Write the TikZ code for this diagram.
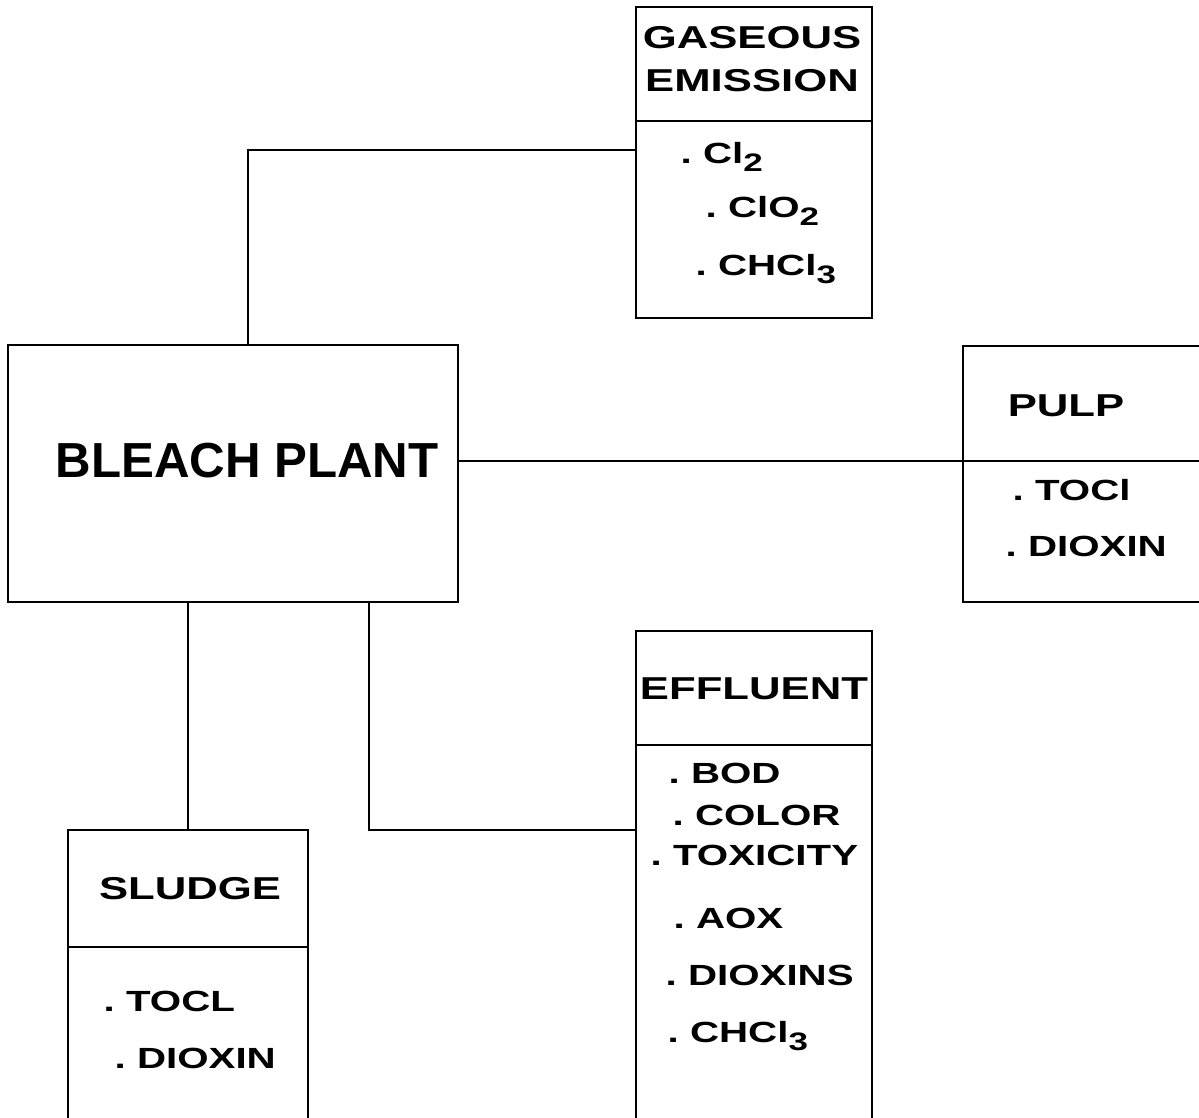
\documentclass[tikz,border=0pt]{standalone}
\usepackage{fontspec}
\setmainfont{Liberation Sans}
\newfontfamily\widesans[FakeStretch=1.38]{Liberation Sans}
\newcommand{\LW}{0.75pt}
\newcommand{\chemsub}[1]{\raisebox{-0.55ex}{\fontsize{7.2}{8}\selectfont#1}}

\begin{document}
\begin{tikzpicture}[
    x=0.01cm, y=-0.01cm,
    wire/.style={draw=black, line width=\LW},
    box/.style={rectangle, draw=black, line width=\LW, inner sep=0pt},
    head/.style={font=\widesans\bfseries\fontsize{9}{10}\selectfont, anchor=base, inner sep=0pt},
    item/.style={font=\widesans\bfseries\fontsize{8.3}{10}\selectfont, anchor=base west, inner sep=0pt},
    big/.style={font=\bfseries\fontsize{14}{16}\selectfont, anchor=base, inner sep=0pt},
  ]
  \useasboundingbox (0,0) rectangle (1199,1118);

  % boxes (pulp, effluent and sludge run off the page)
  \node[box, minimum width=4.50cm, minimum height=2.57cm] (plant)  at (233,473.5) {};
  \node[box, minimum width=2.36cm, minimum height=3.11cm] (gas)    at (754,162.5) {};
  \node[box, minimum width=2.77cm, minimum height=2.56cm] (pulp)   at (1101.5,474) {};
  \node[box, minimum width=2.36cm, minimum height=5.19cm] (effl)   at (754,890.5) {};
  \node[box, minimum width=2.40cm, minimum height=3.20cm] (sludge) at (188,990) {};

  % title / list dividers
  \draw[wire] (636,121) -- (872,121);
  \draw[wire] (636,745) -- (872,745);
  \draw[wire] (68,947) -- (308,947);

  % titles
  \node[big]  (planttxt) at (247,477.5) {BLEACH PLANT};
  \node[head] (gastxt)   at (752,48.5)  {GASEOUS};
  \node[head] (gastxtb)  at (752,91.5)  {EMISSION};
  \node[head] (pulptxt)  at (1066,416)  {PULP};
  \node[head] (effltxt)  at (754,699)   {EFFLUENT};
  \node[head] (sludgetxt) at (190,899)  {SLUDGE};

  % listed items
  \foreach \px/\py/\txt [count=\k] in {680/163/{Cl\chemsub{2}}, 705/217/{ClO\chemsub{2}},
      695/275/{CHCl\chemsub{3}}}
    \node[item] (gas-\k) at (\px,\py) {.\ \txt};
  \foreach \px/\py/\txt [count=\k] in {1012/500/TOCl, 1005/556/DIOXIN}
    \node[item] (pulp-\k) at (\px,\py) {.\ \txt};
  \foreach \px/\py/\txt [count=\k] in {668/783/BOD, 672/825/COLOR, 650/865/TOXICITY, 673/928/AOX,
      665/985/DIOXINS, 667/1042/{CHCl\chemsub{3}}}
    \node[item] (effl-\k) at (\px,\py) {.\ \txt};
  \foreach \px/\py/\txt [count=\k] in {103/1011/TOCL, 114/1068/DIOXIN}
    \node[item] (sludge-\k) at (\px,\py) {.\ \txt};

  % connectors
  \coordinate (gasjoin)  at (248,150);
  \coordinate (pulpjoin) at (0,461);
  \coordinate (effljoin) at (369,830);
  \draw[wire] (plant.north -| gasjoin) |- (gas.west |- gasjoin);
  \draw[wire] (plant.east |- pulpjoin) -- (pulp.west |- pulpjoin);
  \draw[wire] (pulp.west |- pulpjoin) -- (pulp.east |- pulpjoin);
  \draw[wire] (sludge.north) -- (sludge.north |- plant.south);
  \draw[wire] (plant.south -| effljoin) |- (effl.west |- effljoin);

\end{tikzpicture}
\end{document}
